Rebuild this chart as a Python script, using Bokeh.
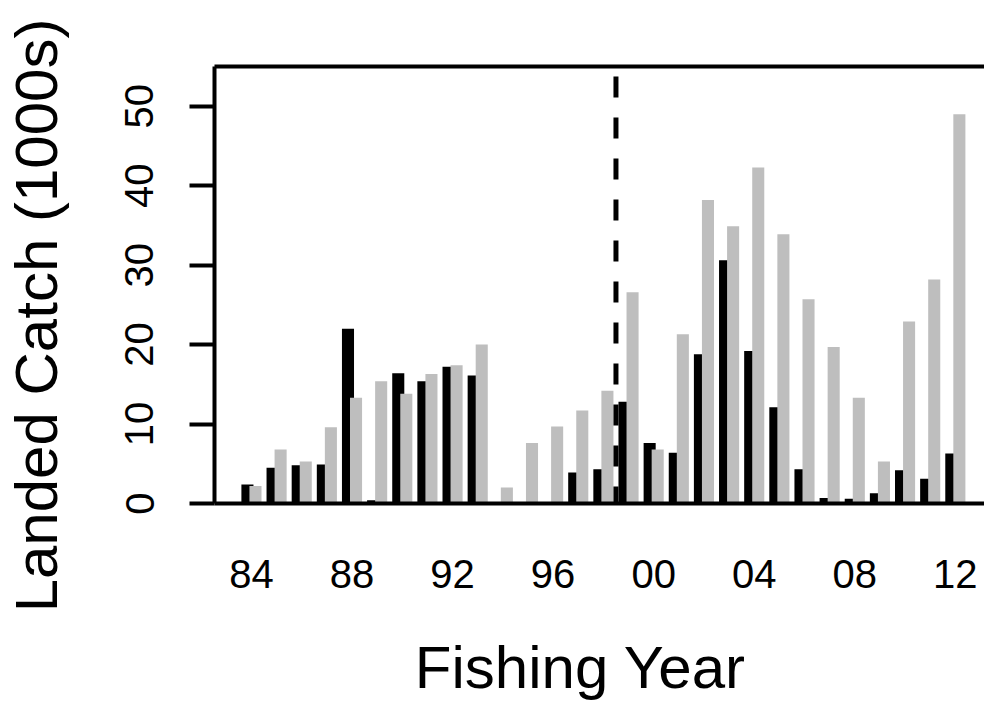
import math
from bokeh.plotting import figure
from bokeh.layouts import row, column
from bokeh.models import FixedTicker, LinearAxis, Range1d, ColumnDataSource, Label
from bokeh.transform import dodge
from bokeh.embed import file_html
from bokeh.resources import INLINE

years = list(range(1984, 2013))
black_catch = [2.4, 4.5, 4.8, 4.9, 22.0, 0.4, 16.4, 15.4, 17.2, 16.1,
               0.0, 0.0, 0.0, 3.9, 4.3, 12.8, 7.6, 6.4, 18.8, 30.6,
               19.2, 12.1, 4.3, 0.7, 0.6, 1.3, 4.2, 3.1, 6.3]
grey_catch = [2.2, 6.8, 5.3, 9.6, 13.3, 15.4, 13.8, 16.3, 17.4, 20.0,
              2.0, 7.6, 9.7, 11.7, 14.2, 26.6, 6.8, 21.3, 38.2, 34.9,
              42.3, 33.9, 25.7, 19.7, 13.3, 5.3, 22.9, 28.2, 49.0]
tick_years = [1984, 1988, 1992, 1996, 2000, 2004, 2008, 2012]
tick_labels = ["84", "88", "92", "96", "00", "04", "08", "12"]
y_ticks = [0, 10, 20, 30, 40, 50]
change_year = 1998.5
x_title = "Fishing Year"
y_title = "Landed Catch (1000s)"

FONT = "Liberation Sans"
LEFT_W = 90      # width of the strip holding the y title
MAIN_H = 620     # height of the main plot
TOTAL_W, TOTAL_H = 984, 702
FRAME_L = 214    # page x of the plot frame's left edge

src = ColumnDataSource(dict(year=years, black=black_catch, grey=grey_catch))

p = figure(width=TOTAL_W - LEFT_W, height=MAIN_H, output_backend="svg",
           toolbar_location=None,
           x_range=Range1d(1982.53, 2013.16), y_range=Range1d(0, 55),
           min_border_left=FRAME_L - LEFT_W, min_border_right=0, min_border_top=66,
           min_border_bottom=MAIN_H - 503)
p.outline_line_color = None
p.grid.visible = False
p.background_fill_color = "white"
p.border_fill_color = "white"

p.vbar(x=dodge("year", -0.16, range=p.x_range), top="black", width=0.48,
       bottom=0, source=src, fill_color="black", line_color=None)
p.vbar(x=dodge("year", 0.16, range=p.x_range), top="grey", width=0.48,
       bottom=0, source=src, fill_color="#BEBEBE", line_color=None)

p.line(x=[change_year, change_year], y=[0, 55], line_color="black",
       line_width=5, line_dash="21 20", line_dash_offset=4)

# x axis
xa = p.xaxis[0]
xa.ticker = FixedTicker(ticks=tick_years)
xa.major_label_overrides = {t: l for t, l in zip(tick_years, tick_labels)}
xa.major_tick_out = 0
xa.major_tick_in = 0
xa.minor_tick_out = 0
xa.minor_tick_in = 0
xa.axis_line_width = 4
xa.major_label_text_font = FONT
xa.major_label_text_font_size = "40px"
xa.major_label_text_color = "black"
xa.major_label_standoff = 56

# y axis
ya = p.yaxis[0]
ya.ticker = FixedTicker(ticks=y_ticks)
ya.major_tick_out = 25
ya.major_tick_in = 0
ya.minor_tick_out = 0
ya.minor_tick_in = 0
ya.major_tick_line_width = 4
ya.axis_line_width = 4
ya.major_label_orientation = "vertical"
ya.major_label_text_font = FONT
ya.major_label_text_font_size = "40px"
ya.major_label_text_color = "black"
ya.major_label_standoff = 36

# top frame line
top = LinearAxis(ticker=FixedTicker(ticks=[]), axis_line_width=4,
                 major_tick_out=0, major_tick_in=0, minor_tick_out=0,
                 minor_tick_in=0, major_label_text_font_size="0px")
p.add_layout(top, "above")


def strip(w, h, x0, x1, border_left=0):
    f = figure(width=w, height=h, output_backend="svg", toolbar_location=None,
               x_range=Range1d(x0, x1), y_range=Range1d(0, h),
               x_axis_location=None, y_axis_location=None, min_border=0,
               min_border_left=border_left)
    f.outline_line_color = None
    f.grid.visible = False
    f.background_fill_color = "white"
    f.border_fill_color = "white"
    return f


# y-axis title strip (page-like units, y measured from the bottom)
left = strip(LEFT_W, TOTAL_H, 0, LEFT_W)
left.add_layout(Label(text=y_title, x=36, y=TOTAL_H - 315, angle=math.pi / 2,
                      text_align="center", text_baseline="alphabetic",
                      text_font=FONT, text_font_size="60px", text_color="black"))

# x-axis title strip, its frame aligned with the plot frame
bottom = strip(TOTAL_W - LEFT_W, TOTAL_H - MAIN_H, FRAME_L, TOTAL_W,
               border_left=FRAME_L - LEFT_W)
bottom.add_layout(Label(text=x_title, x=580, y=35,
                        text_align="center", text_baseline="alphabetic",
                        text_font=FONT, text_font_size="60px", text_color="black"))

layout = row(left, column(p, bottom, spacing=0), spacing=0)

open("out.html", "w").write(file_html(layout, INLINE))
